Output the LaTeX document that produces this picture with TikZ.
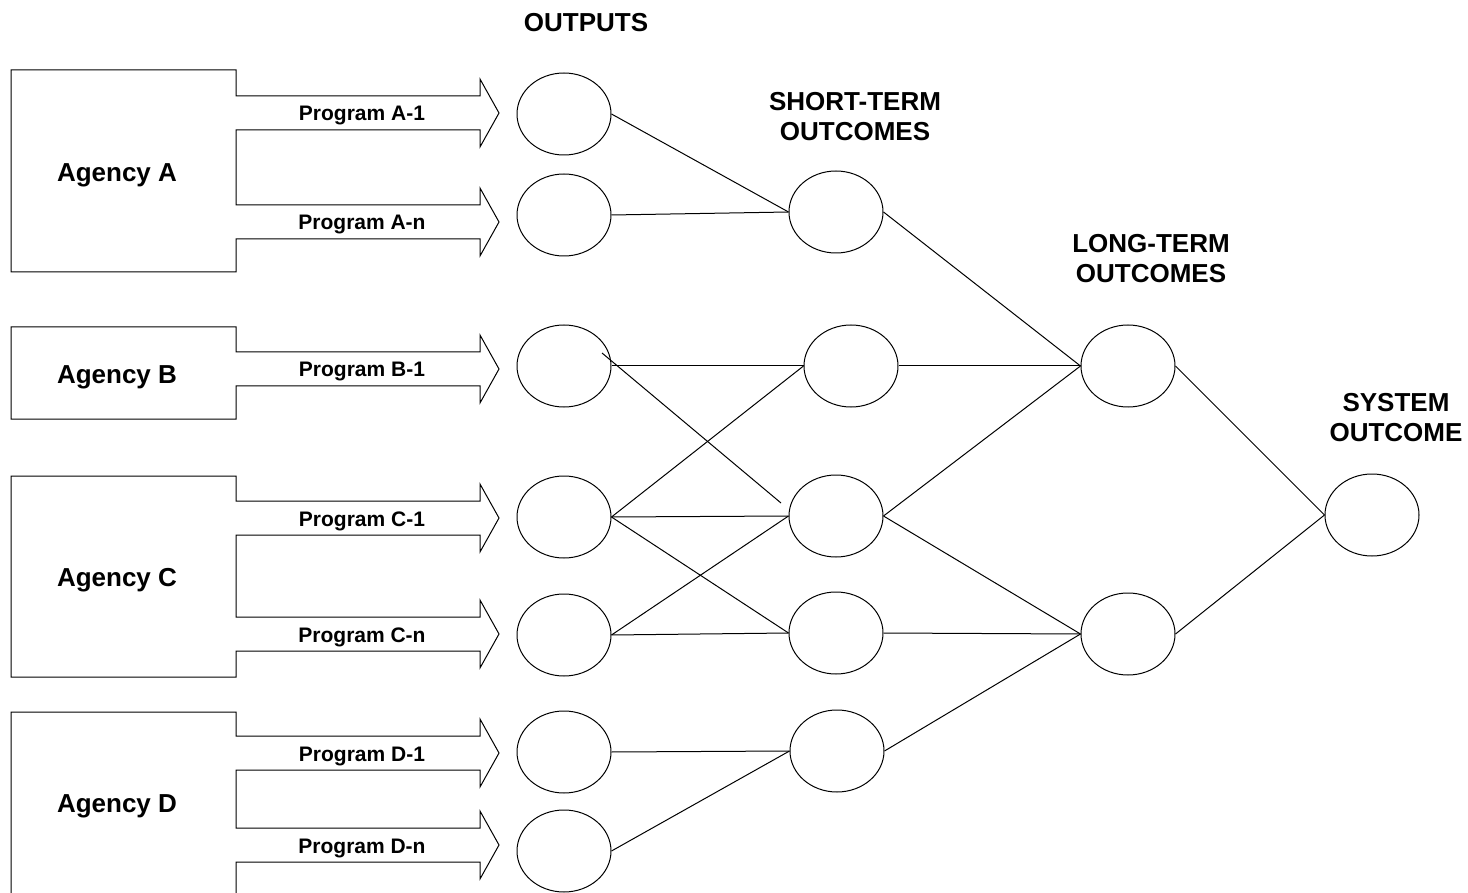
\documentclass[tikz,border=0pt]{standalone}
\usepackage{fontspec}
\setmainfont{Liberation Sans}
\usetikzlibrary{shapes.geometric}
\begin{document}
\begin{tikzpicture}[x=0.5pt,y=-0.5pt,
  line width=0.5pt,
  oval/.style={draw,ellipse,minimum width=47pt,minimum height=41pt,inner sep=0pt},
  agencylbl/.style={font=\fontsize{13}{15}\selectfont\bfseries},
  proglbl/.style={font=\fontsize{10.5}{12}\selectfont\bfseries},
  heading/.style={font=\fontsize{13}{15}\selectfont\bfseries,align=center},
  link/.style={draw,line width=0.5pt}]
\useasboundingbox (0,0) rectangle (1468,893);

% Agency A
\draw (11,70) -- (236,70) -- (236,96) -- (480,96) -- (480,79) -- (499,113) -- (480,147) -- (480,130)
  -- (236,130) -- (236,205) -- (480,205) -- (480,188) -- (499,222) -- (480,256) -- (480,239)
  -- (236,239) -- (236,272) -- (11,272) -- cycle;
% Agency B
\draw (11,327) -- (236,327) -- (236,352) -- (480,352) -- (480,335) -- (499,369) -- (480,403) -- (480,386)
  -- (236,386) -- (236,419) -- (11,419) -- cycle;
% Agency C
\draw (11,476) -- (236,476) -- (236,501) -- (480,501) -- (480,484) -- (499,518) -- (480,552) -- (480,535)
  -- (236,535) -- (236,617) -- (480,617) -- (480,600) -- (499,634) -- (480,668) -- (480,651)
  -- (236,651) -- (236,677) -- (11,677) -- cycle;
% Agency D
\draw (11,893) -- (11,712) -- (236,712) -- (236,736) -- (480,736) -- (480,719) -- (499,753) -- (480,787) -- (480,770)
  -- (236,770) -- (236,828) -- (480,828) -- (480,811) -- (499,845) -- (480,879) -- (480,862)
  -- (236,862) -- (236,893);

\node[agencylbl] (agA) at (117,175) {Agency A};
\node[agencylbl] (agB) at (117,377) {Agency B};
\node[agencylbl] (agC) at (117,580) {Agency C};
\node[agencylbl] (agD) at (117,806) {Agency D};

\node[proglbl] (pA1) at (362,116) {Program A-1};
\node[proglbl] (pAn) at (362,225) {Program A-n};
\node[proglbl] (pB1) at (362,372) {Program B-1};
\node[proglbl] (pC1) at (362,521) {Program C-1};
\node[proglbl] (pCn) at (362,637) {Program C-n};
\node[proglbl] (pD1) at (362,756) {Program D-1};
\node[proglbl] (pDn) at (362,848) {Program D-n};

% headings
\node[heading] (hOut) at (586,23) {OUTPUTS};
\node[heading] (hST) at (855,117) {SHORT-TERM\\OUTCOMES};
\node[heading] (hLT) at (1151,259) {LONG-TERM\\OUTCOMES};
\node[heading] (hSys) at (1396,418) {SYSTEM\\OUTCOME};

% outputs
\node[oval] (oA1) at (564,114) {};
\node[oval] (oAn) at (564,215) {};
\node[oval] (oB1) at (564,366) {};
\node[oval] (oC1) at (564,517) {};
\node[oval] (oCn) at (564,635) {};
\node[oval] (oD1) at (564,752) {};
\node[oval] (oDn) at (564,851) {};
% short-term
\node[oval] (s1) at (836,212) {};
\node[oval] (s2) at (851,366) {};
\node[oval] (s3) at (836,516) {};
\node[oval] (s4) at (836,633) {};
\node[oval] (s5) at (837,751) {};
% long-term
\node[oval] (l1) at (1128,366) {};
\node[oval] (l2) at (1128,634) {};
% system
\node[oval] (sys) at (1372,515) {};

\coordinate (xb1) at (602,353);
\coordinate (xs3) at (781,503);

\path[link] (oA1.east) -- (s1.west);
\path[link] (oAn.east) -- (s1.west);
\path[link] (oB1.east) -- (s2.west);
\path[link] (xb1) -- (xs3);
\path[link] (oC1.east) -- (s2.west);
\path[link] (oC1.east) -- (s3.west);
\path[link] (oC1.east) -- (s4.west);
\path[link] (oCn.east) -- (s3.west);
\path[link] (oCn.east) -- (s4.west);
\path[link] (oD1.east) -- (s5.west);
\path[link] (oDn.east) -- (s5.west);
\path[link] (s1.east) -- (l1.west);
\path[link] (s2.east) -- (l1.west);
\path[link] (s3.east) -- (l1.west);
\path[link] (s3.east) -- (l2.west);
\path[link] (s4.east) -- (l2.west);
\path[link] (s5.east) -- (l2.west);
\path[link] (l1.east) -- (sys.west);
\path[link] (l2.east) -- (sys.west);
\end{tikzpicture}
\end{document}
